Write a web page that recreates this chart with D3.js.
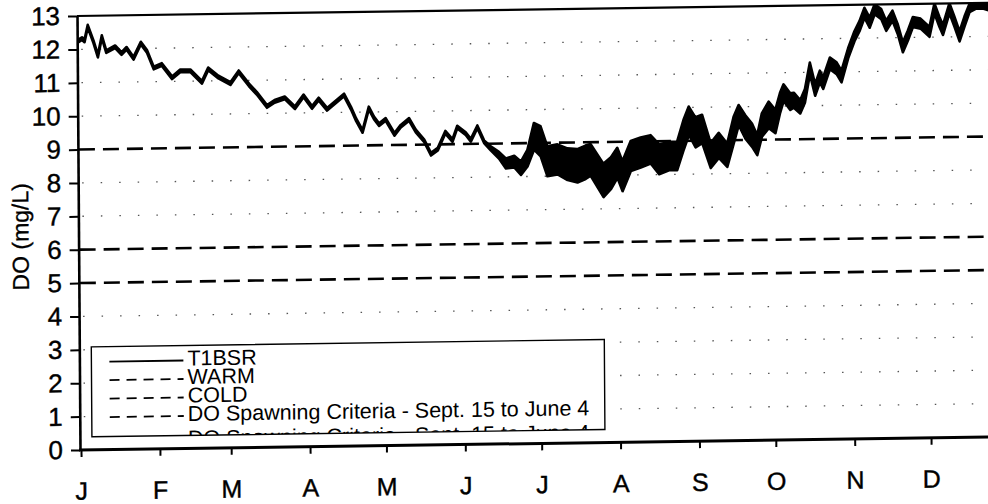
<!DOCTYPE html>
<html>
<head>
<meta charset="utf-8">
<script src="https://cdn.jsdelivr.net/npm/d3@7/dist/d3.min.js"></script>
<style>
  html, body { margin: 0; padding: 0; background: #fff; }
  svg { display: block; font-family: "Liberation Sans", Arial, sans-serif; }
</style>
</head>
<body>
<div id="chart"></div>
<script>
// month ticks (day of year) and labels
var monthStarts = [0, 31, 59, 90, 120, 151, 181, 212, 243, 273, 304, 334];
var monthLabels = ["J", "F", "M", "A", "M", "J", "J", "A", "S", "O", "N", "D"];
var yTicks = [0, 1, 2, 3, 4, 5, 6, 7, 8, 9, 10, 11, 12, 13];
var gridValues = [1, 2, 3, 4, 7, 8, 10, 11, 12];

// T1BSR dissolved oxygen: day of year, mid value, daily (diurnal) spread
var t1bsrDay = [0, 1.5, 2.5, 3.8, 6, 7.7, 9.3, 11, 14.5, 17, 19, 21.7, 24.6, 27, 29.6, 32.8, 36.8, 40, 44, 48.5,
  51, 55, 59.7, 63, 67, 70, 74, 77, 81, 85, 88.4, 91.7, 94.3, 97.6, 100.3, 104.3, 107, 109, 111.5, 114,
  116, 118, 120.6, 124, 126.5, 129.8, 132.4, 135.7, 138.3, 141, 144, 146.8, 148.7, 152, 154, 156.6, 159.2, 161.8, 165, 167.7,
  171, 173.6, 176.2, 178.8, 181.4, 184, 188, 191.9, 195.8, 199, 201, 206, 209, 211.5, 213.5, 216.8, 220.7, 224.6, 227.9, 231.8,
  235, 237.7, 239.7, 242.3, 244.9, 248.2, 251.4, 254.7, 257.3, 259.3, 261.9, 264.5, 266.5, 268.4, 271.1, 273.7, 275.6, 277, 279.6, 281,
  283.5, 285.4, 287.4, 289.4, 291.3, 292.6, 295.3, 297.9, 299.8, 302.5, 305, 307, 309, 311, 313, 315.6, 317.5, 320, 322, 324,
  326, 328, 331, 334.5, 336.5, 338.4, 339.8, 342.4, 344.3, 346.3, 348.3, 350.3, 352.9, 355.5, 358];
var t1bsrDO = [12.25, 12.32, 12.25, 12.69, 12.22, 11.79, 12.37, 11.92, 12.06, 11.86, 12.01, 11.71, 12.16, 11.91, 11.41, 11.51, 11.11, 11.31, 11.31, 10.96,
  11.36, 11.11, 10.91, 11.26, 10.86, 10.61, 10.21, 10.36, 10.46, 10.16, 10.51, 10.16, 10.41, 10.10, 10.27, 10.52, 10.12, 9.77, 9.42, 10.12,
  9.82, 9.62, 9.77, 9.32, 9.56, 9.76, 9.41, 9.11, 8.71, 8.86, 9.36, 9.11, 9.51, 9.31, 9.11, 9.51, 9.06, 8.86, 8.65, 8.40,
  8.45, 8.25, 8.55, 9.20, 9.05, 8.45, 8.50, 8.35, 8.30, 8.40, 8.47, 7.85, 8.07, 8.37, 7.97, 8.57, 8.67, 8.76, 8.46, 8.55,
  8.55, 9.20, 9.60, 9.25, 9.35, 8.55, 8.85, 8.55, 9.30, 9.75, 9.39, 9.14, 8.84, 9.44, 9.74, 9.54, 10.10, 10.40, 10.13, 10.17,
  9.97, 10.30, 11.12, 10.47, 10.87, 10.67, 11.26, 11.11, 10.86, 11.56, 12.06, 12.36, 12.76, 12.46, 12.86, 12.71, 12.36, 12.66, 12.26, 11.71,
  12.06, 12.46, 12.41, 12.16, 12.86, 12.46, 12.21, 12.86, 12.46, 12.01, 12.46, 12.86, 12.96, 12.96, 12.90];
var t1bsrSpread = [0.08, 0.08, 0.08, 0.08, 0.08, 0.08, 0.08, 0.08, 0.08, 0.08, 0.08, 0.08, 0.08, 0.08, 0.08, 0.08, 0.08, 0.08, 0.08, 0.08,
  0.08, 0.08, 0.08, 0.08, 0.08, 0.08, 0.08, 0.08, 0.08, 0.08, 0.08, 0.08, 0.08, 0.08, 0.08, 0.08, 0.08, 0.08, 0.08, 0.08,
  0.08, 0.08, 0.08, 0.08, 0.08, 0.08, 0.08, 0.08, 0.08, 0.08, 0.08, 0.08, 0.08, 0.08, 0.08, 0.08, 0.08, 0.12, 0.2, 0.3,
  0.35, 0.4, 0.5, 0.8, 0.9, 0.9, 0.9, 0.95, 1.0, 1.0, 0.95, 1.0, 0.95, 0.9, 0.9, 0.9, 0.9, 0.85, 0.9, 0.85,
  0.85, 0.9, 0.85, 0.9, 0.85, 0.75, 0.75, 0.7, 0.8, 0.6, 0.7, 0.7, 0.6, 0.7, 0.8, 0.7, 0.6, 0.5, 0.5, 0.45,
  0.4, 0.4, 0.35, 0.35, 0.35, 0.35, 0.35, 0.35, 0.35, 0.3, 0.3, 0.3, 0.3, 0.3, 0.3, 0.3, 0.3, 0.3, 0.3, 0.3,
  0.3, 0.3, 0.3, 0.3, 0.3, 0.3, 0.3, 0.3, 0.3, 0.3, 0.3, 0.25, 0.25, 0.25, 0.25];

// criteria lines
var criteriaDays = [0, 365];
var warmDO = [5, 5];
var coldDO = [6, 6];
var spawnDO = [9, 9];

var legendNames = ["T1BSR", "WARM", "COLD", "DO Spawning Criteria - Sept. 15 to June 4", "DO Spawning Criteria - Sept. 15 to June 4"];

function init() {
  var W = 988, H = 504;
  var left = 80, right = 988, top = 16, bottom = 450;

  var svg = d3.select("#chart").append("svg")
    .attr("width", W)
    .attr("height", H);

  // the scanned original is slightly skewed
  var g = svg.append("g")
    .attr("transform", "matrix(1,-0.0143,0.0069,1,-3.1,1.14)");

  var x = d3.scaleLinear().domain([0, 365]).range([81, 81 + 365 * 2.545]);
  var y = d3.scaleLinear().domain([0, 13]).range([bottom, top]);

  svg.append("defs").append("clipPath").attr("id", "plotclip")
    .append("rect").attr("x", left).attr("y", top).attr("width", right - left + 20).attr("height", bottom - top);

  // dotted gridlines
  g.append("g").selectAll("line")
    .data(gridValues)
    .enter().append("line")
    .attr("x1", left + 4).attr("x2", right + 10)
    .attr("y1", function(d) { return y(d); })
    .attr("y2", function(d) { return y(d); })
    .attr("stroke", "#555")
    .attr("stroke-width", 1.3)
    .attr("stroke-dasharray", "1.5 17");

  // criteria dashed lines
  var critLine = d3.line()
    .x(function(d) { return x(d[0]); })
    .y(function(d) { return y(d[1]); });

  [warmDO, coldDO, spawnDO].forEach(function(vals) {
    var pts = criteriaDays.map(function(d, i) { return [d, vals[i]]; });
    g.append("path")
      .attr("clip-path", "url(#plotclip)")
      .attr("d", critLine(pts))
      .attr("fill", "none")
      .attr("stroke", "#000")
      .attr("stroke-width", 2.6)
      .attr("stroke-dasharray", "16 8");
  });

  // T1BSR band + line
  var series = t1bsrDay.map(function(d, i) {
    return { day: d, v: t1bsrDO[i], s: t1bsrSpread[i] };
  });

  var band = d3.area()
    .x(function(d) { return x(d.day); })
    .y0(function(d) { return y(d.v - d.s / 2); })
    .y1(function(d) { return y(d.v + d.s / 2); });

  g.append("path")
    .attr("clip-path", "url(#plotclip)")
    .attr("d", band(series))
    .attr("fill", "#000")
    .attr("stroke", "#000")
    .attr("stroke-width", 2.6)
    .attr("stroke-linejoin", "round");

  // top border
  g.append("line")
    .attr("x1", left).attr("x2", right + 10)
    .attr("y1", top).attr("y2", top)
    .attr("stroke", "#000").attr("stroke-width", 2.2);

  // y axis
  var yAxis = d3.axisLeft(y)
    .tickValues(yTicks)
    .tickSize(9)
    .tickSizeOuter(0)
    .tickPadding(8);

  var yg = g.append("g")
    .attr("transform", "translate(" + left + ",0)")
    .call(yAxis);
  yg.select(".domain").attr("stroke-width", 2.6);
  yg.selectAll(".tick line").attr("stroke-width", 2);
  yg.selectAll("text")
    .attr("font-size", 26)
    .attr("font-family", "Liberation Sans, Arial, sans-serif")
    .attr("fill", "#000")
    .attr("stroke", "#000")
    .attr("stroke-width", 0.4);

  // x axis
  var xAxis = d3.axisBottom(x)
    .tickValues(monthStarts)
    .tickFormat(function(d, i) { return monthLabels[i]; })
    .tickSize(7)
    .tickSizeOuter(0)
    .tickPadding(25);

  var xg = g.append("g")
    .attr("transform", "translate(0," + bottom + ")")
    .call(xAxis);
  xg.select(".domain").attr("d", "M" + (left - 1) + ",0H" + (right + 10)).attr("stroke-width", 3);
  xg.selectAll(".tick line").attr("stroke-width", 2);
  xg.selectAll("text")
    .attr("font-size", 25)
    .attr("font-family", "Liberation Sans, Arial, sans-serif")
    .attr("fill", "#000")
    .attr("stroke", "#000")
    .attr("stroke-width", 0.4);

  // y axis title
  g.append("text")
    .attr("transform", "translate(30,236) rotate(-90)")
    .attr("text-anchor", "middle")
    .attr("font-size", 23)
    .attr("stroke", "#000")
    .attr("stroke-width", 0.3)
    .text("DO (mg/L)");

  // legend
  var lx = 92, ly = 347, lw = 513, lh = 90;
  svg.select("defs").append("clipPath").attr("id", "legclip")
    .append("rect").attr("x", lx).attr("y", ly).attr("width", lw).attr("height", lh);

  var leg = g.append("g");
  leg.append("rect")
    .attr("x", lx).attr("y", ly).attr("width", lw).attr("height", lh)
    .attr("fill", "#fff");

  var rows = leg.append("g").attr("clip-path", "url(#legclip)")
    .selectAll("g")
    .data(legendNames)
    .enter().append("g")
    .attr("transform", function(d, i) { return "translate(0," + (362 + i * 18.5 + (i === 4 ? 6 : 0)) + ")"; });

  rows.append("line")
    .attr("x1", 110).attr("x2", 184)
    .attr("stroke", "#000")
    .attr("stroke-width", 1.8)
    .attr("stroke-dasharray", function(d, i) { return i === 0 ? null : "10 7"; });

  rows.append("text")
    .attr("x", 188)
    .attr("y", 5)
    .attr("font-size", 21.5)
    .text(function(d) { return d; });

  leg.append("rect")
    .attr("x", lx).attr("y", ly).attr("width", lw).attr("height", lh)
    .attr("fill", "none")
    .attr("stroke", "#000")
    .attr("stroke-width", 1.4);
}

window.addEventListener("load", init);
</script>
</body>
</html>
